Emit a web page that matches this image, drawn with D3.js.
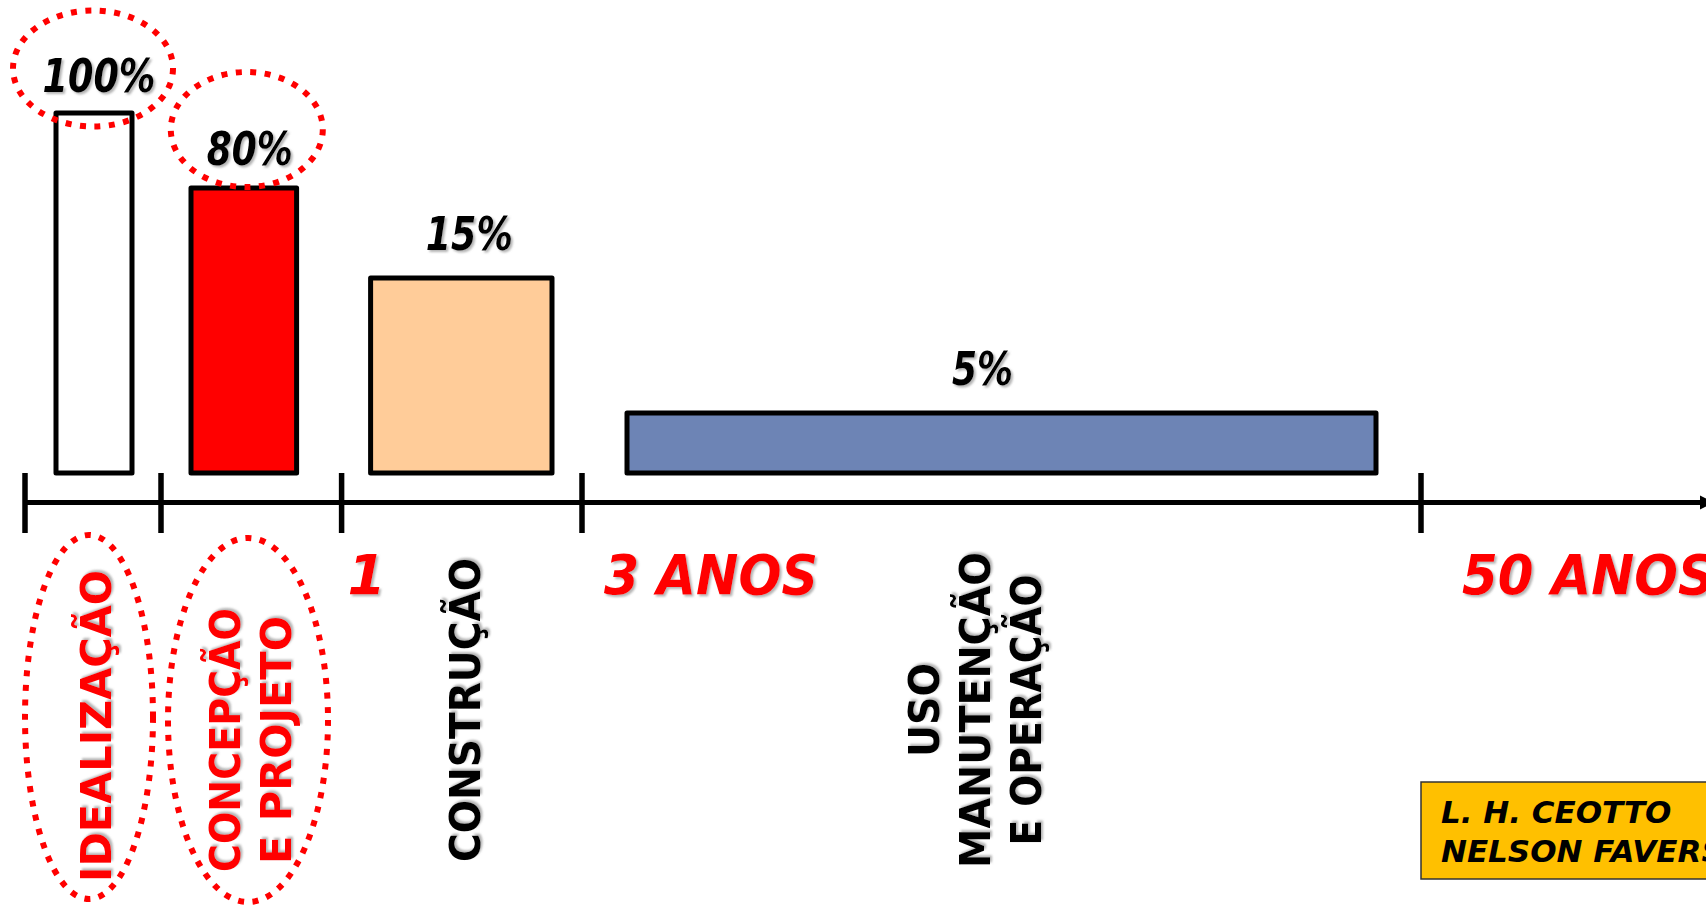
<!DOCTYPE html>
<html><head><meta charset="utf-8">
<script src="https://cdn.jsdelivr.net/npm/d3@7"></script>
<style>html,body{margin:0;padding:0;background:#fff;overflow:hidden}</style>
</head><body><svg id="chart" width="1706" height="908"></svg>
<script>
// ---------- data ----------
const phaseLines = [["IDEALIZAÇÃO"], ["CONCEPÇÃO", "E PROJETO"], ["CONSTRUÇÃO"], ["USO", "MANUTENÇÃO", "E OPERAÇÃO"]];
const influence = [100, 80, 15, 5];
const influenceLabels = ["100%", "80%", "15%", "5%"];
const highlighted = [true, true, false, false];
const timeMarks = [0, 1, 2, 3, 4];
const timeLabels = ["", "", "1", "3 ANOS", "50 ANOS"];
const credits = ["L. H. CEOTTO", "NELSON FAVERSANI"];

// ---------- styles / layout ----------
const barFill = ["#FFFFFF", "#FF0000", "#FFCC99", "#6D84B5"];
const phaseColor = ["#FF0000", "#FF0000", "#000000", "#000000"];
const FONT = "'DejaVu Sans', sans-serif";
const W = 1706, H = 908;

const svg = d3.select("#chart");
const defs = svg.append("defs");
const f = defs.append("filter").attr("id", "sh").attr("x", "-10%").attr("y", "-10%").attr("width", "130%").attr("height", "130%");
f.append("feDropShadow").attr("dx", 2).attr("dy", 2).attr("stdDeviation", 1.2).attr("flood-color", "#777").attr("flood-opacity", 0.55);

// timeline scale (segment boundaries) and polylinear height scale
const x = d3.scaleLinear().domain(timeMarks).range([25, 161, 341.6, 582, 1421]);
const y = d3.scaleLinear().domain([0, 5, 15, 80, 100]).range([473, 413, 278, 188, 113]);

const insetL = [31, 30, 29, 45], insetR = [29, 45, 30, 45];
const AXIS_Y = 502.5;
const DOT_W = 6, DOT_DASH = "6 8.5";

// ---------- axis ----------
svg.append("line").attr("x1", x(0)).attr("x2", W + 10).attr("y1", AXIS_Y).attr("y2", AXIS_Y)
  .attr("stroke", "#000").attr("stroke-width", 5);
svg.append("path").attr("d", `M${W - 6},${AXIS_Y - 7} L${W + 8},${AXIS_Y} L${W - 6},${AXIS_Y + 7} Z`).attr("fill", "#000");
svg.selectAll("line.tick").data(timeMarks).join("line").attr("class", "tick")
  .attr("x1", d => x(d)).attr("x2", d => x(d)).attr("y1", 473).attr("y2", 533)
  .attr("stroke", "#000").attr("stroke-width", 5.5);

// ---------- bars ----------
const idx = d3.range(influence.length);
svg.selectAll("rect.bar").data(idx).join("rect").attr("class", "bar")
  .attr("x", i => x(i) + insetL[i])
  .attr("width", i => x(i + 1) - insetR[i] - x(i) - insetL[i])
  .attr("y", i => y(influence[i]))
  .attr("height", i => y(0) - y(influence[i]))
  .attr("fill", i => barFill[i]).attr("stroke", "#000").attr("stroke-width", 5)
  .attr("stroke-linejoin", "round");

// value labels
const lblDx = [5, 6, 8, -19], lblDy = [-21, -23, -28, -28], lblLen = [113, 86, 87, 61];
svg.selectAll("text.val").data(idx).join("text").attr("class", "val")
  .attr("x", i => (x(i) + insetL[i] + x(i + 1) - insetR[i]) / 2 + lblDx[i])
  .attr("y", i => y(influence[i]) + lblDy[i])
  .attr("text-anchor", "middle").attr("font-family", FONT).attr("font-weight", "bold").attr("font-style", "oblique")
  .attr("font-size", 46).attr("textLength", i => lblLen[i]).attr("lengthAdjust", "spacingAndGlyphs")
  .attr("filter", "url(#sh)")
  .text(i => influenceLabels[i]);

// dotted ellipses around highlighted values
const valEll = [{dx: -1, dy: -44.5, rx: 80, ry: 58}, {dx: 3, dy: -58.5, rx: 76, ry: 57.5}];
svg.selectAll("ellipse.hv").data(idx.filter(i => highlighted[i])).join("ellipse").attr("class", "hv")
  .attr("cx", i => (x(i) + insetL[i] + x(i + 1) - insetR[i]) / 2 + valEll[i].dx)
  .attr("cy", i => y(influence[i]) + valEll[i].dy)
  .attr("rx", i => valEll[i].rx).attr("ry", i => valEll[i].ry)
  .attr("fill", "none").attr("stroke", "#FF0000").attr("stroke-width", DOT_W).attr("stroke-dasharray", DOT_DASH);

// ---------- time labels ----------
const tDx = [0, 0, 6, 22, 41], tLen = [0, 0, 0, 214, 253];
svg.selectAll("text.time").data(timeMarks.filter(d => timeLabels[d])).join("text").attr("class", "time")
  .attr("x", d => x(d) + tDx[d]).attr("y", 594)
  .attr("font-family", FONT).attr("font-weight", "bold").attr("font-style", "oblique").attr("font-size", 55)
  .attr("fill", "#FF0000").attr("filter", "url(#sh)")
  .each(function (d) { if (tLen[d]) d3.select(this).attr("textLength", tLen[d]).attr("lengthAdjust", "spacingAndGlyphs"); })
  .text(d => timeLabels[d]);

// ---------- phase labels (rotated) ----------
const phaseX = [111, 240, 480, 939], phaseCY = [726, 740, 710, 710], LINE_GAP = 51;
const phaseLen = [[312], [264, 248], [304], [94, 316, 271]];
idx.forEach(i => {
  phaseLines[i].forEach((ln, k) => {
    const bx = phaseX[i] + k * LINE_GAP;
    svg.append("text")
      .attr("transform", `translate(${bx},${phaseCY[i]}) rotate(-90)`)
      .attr("text-anchor", "middle").attr("font-family", FONT).attr("font-weight", "bold").attr("font-size", 42)
      .attr("fill", phaseColor[i]).attr("filter", "url(#sh)")
      .attr("textLength", phaseLen[i][k]).attr("lengthAdjust", "spacingAndGlyphs")
      .text(ln);
  });
});

// dotted ellipses around highlighted phases
const phEll = [{cx: 89, cy: 717, rx: 64, ry: 182}, {cx: 248, cy: 720, rx: 80, ry: 182}];
svg.selectAll("ellipse.hp").data(idx.filter(i => highlighted[i])).join("ellipse").attr("class", "hp")
  .attr("cx", i => phEll[i].cx).attr("cy", i => phEll[i].cy)
  .attr("rx", i => phEll[i].rx).attr("ry", i => phEll[i].ry)
  .attr("fill", "none").attr("stroke", "#FF0000").attr("stroke-width", DOT_W).attr("stroke-dasharray", DOT_DASH);

// ---------- credits box ----------
svg.append("rect").attr("x", 1421).attr("y", 782).attr("width", 300).attr("height", 97)
  .attr("fill", "#FFC000").attr("stroke", "#333").attr("stroke-width", 1.5);
svg.selectAll("text.cr").data(credits).join("text").attr("class", "cr")
  .attr("x", 1441).attr("y", (d, i) => 823 + i * 39)
  .attr("font-family", FONT).attr("font-weight", "bold").attr("font-style", "oblique").attr("font-size", 31)
  .attr("fill", "#000").text(d => d);
</script></body></html>
